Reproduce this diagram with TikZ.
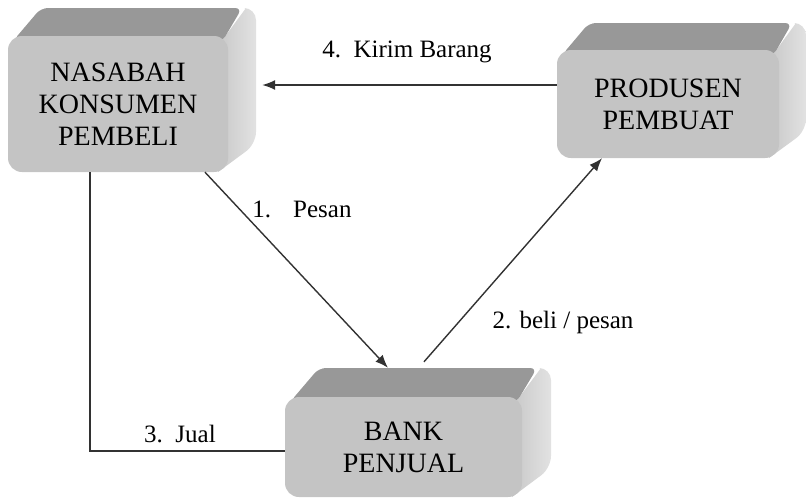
\documentclass[tikz,border=0pt]{standalone}
\usepackage{fontspec}
\setmainfont{Liberation Serif}
\usetikzlibrary{arrows.meta,calc}
\definecolor{frontc}{RGB}{196,196,196}
\definecolor{topc}{RGB}{152,152,152}
\definecolor{sidea}{RGB}{200,200,200}
\definecolor{sideb}{RGB}{226,226,226}
\definecolor{linec}{RGB}{50,50,50}
\tikzset{
  frontbox/.style={fill=frontc, rounded corners=14pt, inner sep=0pt, align=center,
    font=\fontsize{28}{32}\selectfont, text=black},
  conn/.style={draw=linec, line width=1.4pt},
  arr/.style={conn, -{Latex[length=13pt,width=10pt]}},
  lbl/.style={font=\fontsize{25}{30}\selectfont, inner sep=0pt}
}
% #1 name, #2 x1, #3 y1, #4 x2, #5 y2, #6 depth, #7 text
\newcommand\cubebox[7]{%
  \shade[left color=sidea, right color=sideb]
    ({#4-10},{#3+10}) -- ({#4-10+#6},{#3-#6}) [rounded corners=12pt] -- ({#4+#6},{#3-#6}) -- ({#4+#6},{#5-#6}) [sharp corners] -- ({#4-10},{#5}) -- cycle;
  \fill[topc, rounded corners=7pt]
    ({#2+5},{#3+5}) -- ({#2+5+#6},{#3-#6}) -- ({#4+#6-14},{#3-#6}) -- ({#4-6},{#3+6}) -- cycle;
  \node[frontbox, minimum width={(#4-#2)*1pt}, minimum height={(#5-#3)*1pt}]
    (#1) at ({(#2+#4)/2},{(#3+#5)/2}) {#7};
}
\begin{document}
\begin{tikzpicture}[x=1pt,y=-1pt]
\useasboundingbox (0,0) rectangle (806,499);
\cubebox{N}{8}{36}{228}{172}{28}{NASABAH\\KONSUMEN\\PEMBELI}
\cubebox{P}{557}{50}{779}{158}{27}{PRODUSEN\\PEMBUAT}
\cubebox{B}{285}{397}{522}{497}{29}{BANK\\PENJUAL}
% connectors
\draw[arr] ([yshift=19pt]P.west) -- ([xshift=34pt,yshift=19pt]N.east);
\draw[arr] ([xshift=87pt]N.south) -- ([xshift=-15.5pt,yshift=29pt]B.north);
\draw[arr] ([xshift=20.5pt,yshift=35pt]B.north) -- ([xshift=-66pt]P.south);
\draw[conn] ([xshift=-28pt]N.south) |- ([yshift=-4pt]B.west);
% labels
\node[lbl] (l4) at (407,52) {4.\ \ Kirim Barang};
\node[lbl] (l1) at (302,209) {1.\hspace{22pt}Pesan};
\node[lbl] (l2) at (563,322) {2. beli / pesan};
\node[lbl] (l3) at (180,434) {3.\ \ Jual};
\end{tikzpicture}
\end{document}
